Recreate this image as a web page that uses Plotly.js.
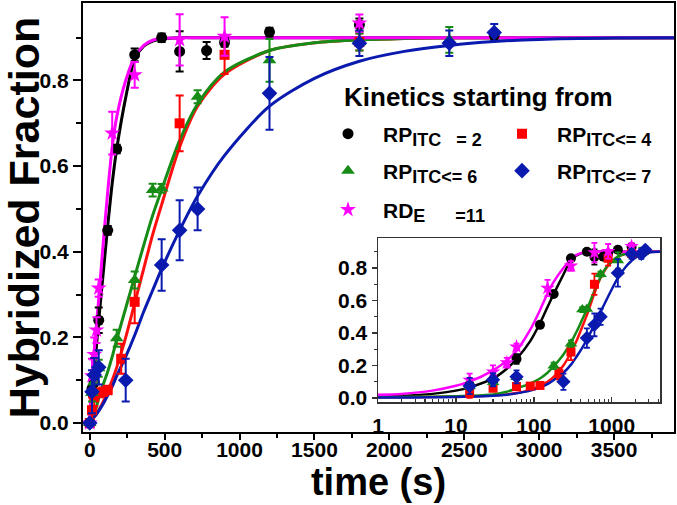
<!DOCTYPE html>
<html><head><meta charset="utf-8">
<script src="https://cdn.plot.ly/plotly-3.0.1.min.js"></script>
<style>html,body{margin:0;padding:0;background:#fff}#chart{width:677px;height:505px}</style>
</head><body><div id="chart"></div>
<script>
// ---- measured data (time in s, hybridized fraction) ----
const tBlack = [0, 15, 30, 60, 120, 180, 300, 480, 600, 780, 900, 1200, 1800, 2700];
const vBlack = [0, 0.08, 0.095, 0.24, 0.45, 0.64, 0.86, 0.90, 0.868, 0.87, 0.889, 0.913, 0.93, 0.906];
const eBlack = [0, 0.02, 0.02, 0.03, 0.01, 0.01, 0.015, 0.01, 0.047, 0.02, 0.01, 0.01, 0.015, 0.01];

const tRed = [0, 15, 30, 60, 90, 120, 210, 300, 600, 900, 1800];
const vRed = [0, 0.03, 0.06, 0.07, 0.073, 0.077, 0.15, 0.283, 0.70, 0.86, 0.89];
const eRed = [0, 0.03, 0.02, 0.01, 0.01, 0.01, 0.035, 0.05, 0.065, 0.045, 0.02];

const tGreen = [0, 15, 30, 60, 180, 300, 420, 480, 720, 1200, 1800, 2400];
const vGreen = [0, 0.07, 0.096, 0.128, 0.198, 0.334, 0.544, 0.548, 0.762, 0.847, 0.89, 0.895];
const eGreen = [0, 0.02, 0.02, 0.02, 0.02, 0.02, 0.015, 0.01, 0.015, 0.05, 0.02, 0.03];

const tBlue = [0, 15, 30, 60, 240, 480, 600, 720, 1200, 1800, 2400, 2700];
const vBlue = [0, 0.073, 0.112, 0.13, 0.10, 0.369, 0.45, 0.50, 0.77, 0.887, 0.887, 0.912];
const eBlue = [0, 0.05, 0.04, 0.04, 0.05, 0.06, 0.07, 0.05, 0.085, 0.03, 0.03, 0.02];

const tMag = [0, 15, 30, 45, 60, 150, 300, 600, 900, 1800];
const vMag = [0, 0.11, 0.16, 0.217, 0.315, 0.677, 0.813, 0.895, 0.903, 0.934];
const eMag = [0, 0.04, 0.04, 0.03, 0.02, 0.05, 0.03, 0.06, 0.045, 0.02];

// ---- fitted curves ----
const tFit = [0, 1, 2, 5, 10, 15, 30, 45, 60, 90, 120, 150, 180, 240, 300, 360, 420, 480, 600, 720, 900, 1200, 1500, 1800, 2100, 2400, 2700, 3000, 3500, 4200];
const fBlack = [0, 0.01, 0.013, 0.025, 0.045, 0.065, 0.12, 0.18, 0.24, 0.35, 0.46, 0.56, 0.64, 0.76, 0.85, 0.88, 0.892, 0.897, 0.9, 0.9, 0.9, 0.9, 0.9, 0.9, 0.9, 0.9, 0.9, 0.9, 0.9, 0.9];
const fMag = [0, 0.02, 0.025, 0.045, 0.075, 0.10, 0.17, 0.23, 0.29, 0.42, 0.54, 0.645, 0.715, 0.80, 0.855, 0.882, 0.894, 0.898, 0.9, 0.9, 0.9, 0.9, 0.9, 0.9, 0.9, 0.9, 0.9, 0.9, 0.9, 0.9];
const fRed = [0, 0.004, 0.005, 0.006, 0.008, 0.01, 0.015, 0.022, 0.03, 0.05, 0.075, 0.10, 0.13, 0.20, 0.28, 0.36, 0.44, 0.51, 0.645, 0.74, 0.815, 0.87, 0.888, 0.895, 0.898, 0.9, 0.9, 0.9, 0.9, 0.9];
const fGreen = [0, 0.005, 0.006, 0.008, 0.01, 0.013, 0.022, 0.038, 0.058, 0.09, 0.12, 0.155, 0.195, 0.268, 0.342, 0.415, 0.485, 0.545, 0.66, 0.745, 0.82, 0.87, 0.888, 0.895, 0.898, 0.9, 0.9, 0.9, 0.9, 0.9];
const fBlue = [0, 0.002, 0.003, 0.004, 0.006, 0.008, 0.014, 0.02, 0.028, 0.045, 0.065, 0.085, 0.11, 0.155, 0.205, 0.26, 0.31, 0.36, 0.45, 0.53, 0.625, 0.74, 0.805, 0.845, 0.868, 0.882, 0.891, 0.896, 0.899, 0.9];

// ---- tick labels ----
const xTickVals = [0, 500, 1000, 1500, 2000, 2500, 3000, 3500];
const yTickVals = [0.0, 0.2, 0.4, 0.6, 0.8];
const insetXTickVals = [1, 10, 100, 1000];
const insetXTickText = ['1', '10', '100', '1000'];

const sub = s => '<sub><span style="font-size:18px">' + s + '</span></sub>';
const names = {
  black: 'RP' + sub('ITC&nbsp;&nbsp;&nbsp;=&nbsp;2'),
  red: 'RP' + sub('ITC&lt;=&nbsp;4'),
  green: 'RP' + sub('ITC&lt;=&nbsp;6'),
  blue: 'RP' + sub('ITC&lt;=&nbsp;7'),
  mag: 'RD' + sub('E&nbsp;&nbsp;&nbsp;&nbsp;&nbsp;&nbsp;=11')
};

const series = [
  {key:'black', t:tBlack, v:vBlack, e:eBlack, f:fBlack, color:'#000000', line:'#000000', symbol:'circle', size:11, legend:'legend'},
  {key:'red', t:tRed, v:vRed, e:eRed, f:fRed, color:'#ff0000', line:'#ff1010', symbol:'square', size:10, legend:'legend2'},
  {key:'green', t:tGreen, v:vGreen, e:eGreen, f:fGreen, color:'#168c16', line:'#168c16', symbol:'triangle-up', size:12, legend:'legend3'},
  {key:'mag', t:tMag, v:vMag, e:eMag, f:fMag, color:'#ff00ff', line:'#ff00ff', symbol:'star', size:12, legend:'legend5'},
  {key:'blue', t:tBlue, v:vBlue, e:eBlue, f:fBlue, color:'#0a1aae', line:'#0a1aae', symbol:'diamond', size:12, legend:'legend4'}
];

const font = 'Liberation Sans, Arial, sans-serif';
const traces = [];
// fit curves
series.forEach(s => {
  traces.push({x:tFit, y:s.f, type:'scatter', mode:'lines', line:{color:s.line, width:3, shape:'spline', smoothing:0.8}, showlegend:false, hoverinfo:'skip', xaxis:'x', yaxis:'y'});
  const tp = [], fp = [];
  tFit.forEach((t,i) => { if (t > 0) { tp.push(t); fp.push(s.f[i]); } });
  traces.push({x:tp, y:fp, type:'scatter', mode:'lines', line:{color:s.line, width:2.5, shape:'spline', smoothing:0.8}, showlegend:false, hoverinfo:'skip', xaxis:'x2', yaxis:'y2'});
});
// measured points
series.forEach(s => {
  traces.push({x:s.t, y:s.v, type:'scatter', mode:'markers', name:names[s.key], legend:s.legend,
    marker:{symbol:s.symbol, size:s.size, color:s.color},
    error_y:{type:'data', array:s.e, visible:true, color:s.color, thickness:2, width:4},
    xaxis:'x', yaxis:'y', cliponaxis:false});
  const tp = [], vp = [], ep = [];
  s.t.forEach((t,i) => { if (t > 0) { tp.push(t); vp.push(s.v[i]); ep.push(s.e[i]); } });
  traces.push({x:tp, y:vp, type:'scatter', mode:'markers', showlegend:false,
    marker:{symbol:s.symbol, size:s.size - 1, color:s.color},
    error_y:{type:'data', array:ep, visible:true, color:s.color, thickness:1.8, width:3},
    xaxis:'x2', yaxis:'y2'});
});

const W = 591, H = 429, L = 83, T = 3;
const px = x => (x - L) / W;
const py = y => (T + H - y) / H;
const tickFont = {family:font, size:21, color:'#000', weight:'bold'};
const legFont = {family:font, size:21, color:'#000', weight:'bold'};
function leg(xp, yp) {
  return {x:px(xp), y:py(yp), xanchor:'left', yanchor:'middle', bgcolor:'rgba(0,0,0,0)', borderwidth:0, font:legFont, itemwidth:60};
}

const layout = {
  width:677, height:505,
  margin:{l:L, r:3, t:T, b:73, pad:0},
  paper_bgcolor:'#fff', plot_bgcolor:'#fff',
  font:{family:font, color:'#000'},
  xaxis:{range:[-45, 3900], tickvals:xTickVals, ticks:'outside', ticklen:6, tickwidth:2, tickcolor:'#000', ticklabelstandoff:-8,
    minor:{dtick:250, tick0:0, ticks:'outside', ticklen:4, tickwidth:2, tickcolor:'#000'},
    showline:true, linewidth:2, linecolor:'#000', mirror:true, showgrid:false, zeroline:false,
    tickfont:tickFont, title:{text:'time (s)', font:{family:font, size:38, color:'#000', weight:'bold'}, standoff:4}},
  yaxis:{range:[-0.021, 0.981], tickvals:yTickVals, tickformat:'.1f', ticks:'outside', ticklen:8, tickwidth:2, tickcolor:'#000',
    minor:{dtick:0.1, tick0:0, ticks:'outside', ticklen:5, tickwidth:2, tickcolor:'#000'},
    showline:true, linewidth:2, linecolor:'#000', mirror:true, showgrid:false, zeroline:false,
    tickfont:tickFont, title:{text:'Hybridized Fraction', font:{family:font, size:43, color:'#000', weight:'bold'}, standoff:4}},
  xaxis2:{type:'log', range:[0, 3.62], domain:[px(378), px(660)], anchor:'y2', tickvals:insetXTickVals, ticktext:insetXTickText,
    ticks:'inside', ticklen:5, tickwidth:1.5, tickcolor:'#333', ticklabelstandoff:4,
    minor:{dtick:'D1', ticks:'inside', ticklen:3, tickwidth:1.2, tickcolor:'#333'},
    showline:true, linewidth:1.5, linecolor:'#333', mirror:true, showgrid:false, zeroline:false, tickfont:tickFont},
  yaxis2:{range:[-0.025, 0.985], domain:[py(402), py(238)], anchor:'x2', tickvals:yTickVals, tickformat:'.1f',
    ticks:'outside', ticklen:5, tickwidth:1.5, tickcolor:'#333',
    minor:{dtick:0.1, tick0:0, ticks:'outside', ticklen:3, tickwidth:1.2, tickcolor:'#333'},
    showline:true, linewidth:1.5, linecolor:'#333', mirror:true, showgrid:false, zeroline:false, tickfont:tickFont},
  legend:leg(313, 134),
  legend2:leg(487, 134),
  legend3:leg(313, 171),
  legend4:leg(487, 171),
  legend5:leg(313, 210),
  annotations:[{text:'Kinetics starting from', xref:'paper', yref:'paper', x:px(342), y:py(97), xanchor:'left', yanchor:'middle', showarrow:false,
    font:{family:font, size:26, color:'#000', weight:'bold'}}],
  showlegend:true
};

Plotly.newPlot('chart', traces, layout, {displayModeBar:false, staticPlot:true});
</script></body></html>
